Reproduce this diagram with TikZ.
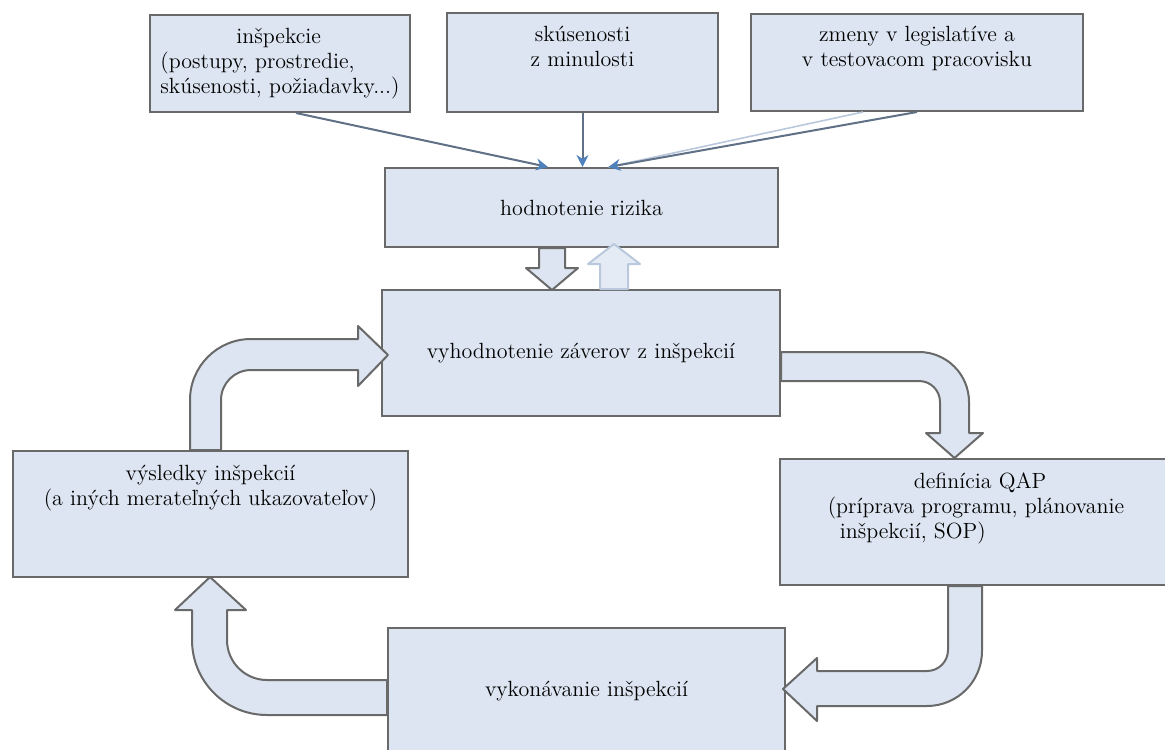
\documentclass[tikz,border=0pt]{standalone}
\usepackage{fontspec}
\usetikzlibrary{arrows.meta,calc}

\definecolor{boxfill}{RGB}{220,229,241}
\definecolor{boxline}{RGB}{105,105,105}
\definecolor{tipblue}{RGB}{79,129,189}
\definecolor{feedline}{RGB}{95,112,135}
\definecolor{palefill}{RGB}{228,235,245}
\definecolor{paleline}{RGB}{185,200,220}

\begin{document}
\begin{tikzpicture}[
    x=0.5pt, y=-0.5pt,
    font=\fontsize{11}{12.5}\selectfont,
    box/.style={rectangle, draw=boxline, line width=1pt, fill=boxfill, align=center, inner sep=2pt},
    feed/.style={-{Stealth[length=6pt,width=6pt,color=tipblue]}, draw=feedline, line width=1pt},
    bigarrow/.style={draw=boxline, line width=1pt, fill=boxfill, line join=round},
    palearrow/.style={draw=paleline, line width=1pt, fill=palefill, line join=round}
  ]

  \useasboundingbox (0,0) rectangle (1165,749);

  % Input boxes
  \node[box, align=left, minimum width=130pt, minimum height=48.5pt] (insp) at (280,63.5)
    {\hspace*{38pt}inšpekcie\\(postupy, prostredie,\\skúsenosti, požiadavky...)};
  \node[box, minimum width=135.5pt, minimum height=49.5pt] (past) at (582.5,62.5)
    {skúsenosti\\z minulosti\\\strut};
  \node[box, minimum width=166pt, minimum height=48.5pt] (law) at (917,62.5)
    {zmeny v legislatíve a\\v testovacom pracovisku\\\strut};

  % Cycle boxes
  \node[box, minimum width=196.5pt, minimum height=39.5pt] (risk) at (581.5,207.5) {hodnotenie rizika};
  \node[box, minimum width=199pt, minimum height=63pt] (concl) at (581,353) {vyhodnotenie záverov z inšpekcií};
  \node[box, minimum width=197.5pt, minimum height=63pt] (results) at (210.5,514)
    {výsledky inšpekcií\\(a iných merateľných ukazovateľov)\\\strut\\\strut};
  \node[box, align=left, minimum width=196pt, minimum height=63pt] (qap) at (976,522)
    {\hspace*{43pt}definícia QAP\\(príprava programu, plánovanie\\\hspace*{6pt}inšpekcií, SOP)\\\strut};
  \node[box, minimum width=198.5pt, minimum height=63pt] (perform) at (586.5,691) {vykonávanie inšpekcií};

  % Inputs into risk assessment
  \draw[paleline, line width=0.8pt] ([xshift=-27pt]law.south) -- ([xshift=13.5pt]risk.north);
  \draw[feed] ([xshift=8pt]insp.south) -- ([xshift=-16.75pt]risk.north);
  \draw[feed] (past.south) -- (past.south |- risk.north);
  \draw[feed] (law.south) -- ([xshift=13.5pt]risk.north);

  % Risk <-> conclusions
  \draw[bigarrow] ($(risk.south)+(-42.5,0)$) -- ++(0,20) -- ++(-13,0) -- ++(26,22)
    -- ++(26,-22) -- ++(-13,0) -- ++(0,-20) -- cycle;
  \draw[palearrow] ($(concl.north)+(19,0)$) -- ++(0,-25) -- ++(-12,0) -- ++(26,-20)
    -- ++(26,20) -- ++(-12,0) -- ++(0,25) -- cycle;

  % Results -> conclusions
  \draw[bigarrow] ($(results.north)+(-20.5,0)$) -- ++(0,-50)
    arc[start angle=180, end angle=270, radius=61] -- ++(107,0) -- ++(0,-13)
    -- ++(30,29) -- ++(-30,31) -- ++(0,-16) -- ++(-107,0)
    arc[start angle=270, end angle=180, radius=30] -- ++(0,50) -- cycle;

  % Conclusions -> QAP
  \draw[bigarrow] ($(concl.east)+(0,-1)$) -- ++(138,0)
    arc[start angle=270, end angle=360, radius=50] -- ++(0,31) -- ++(14,0)
    -- ++(-28.5,25) -- ++(-28.5,-25) -- ++(14,0) -- ++(0,-31)
    arc[start angle=0, end angle=-90, radius=21] -- ++(-138,0) -- cycle;

  % QAP -> performing inspections
  \draw[bigarrow] ($(qap.south)+(-28,0)$) -- ++(0,64)
    arc[start angle=0, end angle=90, radius=21] -- ++(-110,0) -- ++(0,-13)
    -- ++(-34,31) -- ++(34,32) -- ++(0,-15) -- ++(110,0)
    arc[start angle=90, end angle=0, radius=55] -- ++(0,-65) -- cycle;

  % Performing inspections -> results
  \draw[bigarrow] ($(perform.west)+(0,-11)$) -- ++(-120,0)
    arc[start angle=90, end angle=180, radius=40] -- ++(0,-30) -- ++(19,0)
    -- ++(-36,-33) -- ++(-35,33) -- ++(17,0) -- ++(0,30)
    arc[start angle=180, end angle=90, radius=75] -- ++(120,0) -- cycle;

\end{tikzpicture}
\end{document}
